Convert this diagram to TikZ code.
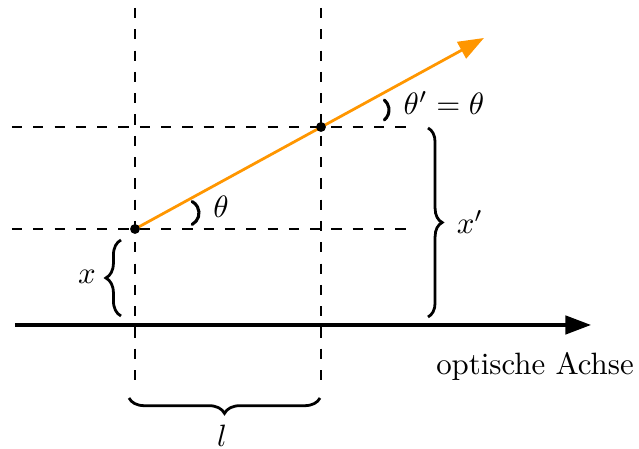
\documentclass[tikz,border=0pt]{standalone}
\usetikzlibrary{arrows.meta,decorations.pathreplacing}
\definecolor{rayorange}{RGB}{255,150,0}
\begin{document}
\begin{tikzpicture}[x=0.324pt,y=-0.324pt,
  guide/.style={line width=0.4pt, dash pattern=on 3.3pt off 3.6pt},
  ray/.style={rayorange, line width=0.9pt, -{Triangle[length=8.3pt,width=6pt]}},
  axisline/.style={line width=1pt, -{Triangle[length=8.3pt,width=6pt]}},
  dot/.style={circle, fill=black, inner sep=0pt, minimum size=3.2pt},
  bracestyle/.style={decorate, decoration={brace, amplitude=#1}, line width=0.9pt},
  anglearc/.style={line width=1pt, line cap=round},
  lbl/.style={inner sep=0pt}]
\useasboundingbox (0,0) rectangle (639,449);
% guide coordinates
\coordinate (v1t) at (135,8);   \coordinate (v1b) at (135,386);
\coordinate (v2t) at (321,8);   \coordinate (v2b) at (321,386);
\coordinate (h1l) at (12,127);  \coordinate (h1r) at (408,127);
\coordinate (h2l) at (12,229);  \coordinate (h2r) at (410,229);
\coordinate (ax0) at (15,325);  \coordinate (ax1) at (591,325);
\coordinate (A) at (135,229);   \coordinate (B) at (321,127);
\coordinate (T) at (484,38);
% dashed guides
\draw[guide] (v1t) -- (v1b);
\draw[guide] (v2t) -- (v2b);
\draw[guide] (h1l) -- (h1r);
\draw[guide] (h2l) -- (h2r);
% optical axis
\draw[axisline] (ax0) -- (ax1);
\node[lbl, anchor=base] (lax) at (535,375) {optische Achse};
% ray
\draw[ray] (A) -- (T);
\node[dot] (pA) at (A) {};
\node[dot] (pB) at (B) {};
% angle arcs (parenthesis-like)
\coordinate (cA) at (186,213);
\coordinate (cB) at (376,110);
\draw[anglearc] ([shift={(62:13)}]cA) arc[start angle=62, end angle=-62, radius=13];
\draw[anglearc] ([shift={(50:13)}]cB) arc[start angle=50, end angle=-50, radius=13];
\node[lbl] (lth) at (221,207) {$\theta$};
\node[lbl] (lthp) at (444,103) {$\theta'=\theta$};
% braces
\coordinate (bxb) at (121,316); \coordinate (bxt) at (121,240);
\draw[bracestyle=4.9pt] (bxb) -- (bxt);
\node[lbl] (lx) at (87,277) {$x$};
\coordinate (bpt) at (428,128); \coordinate (bpb) at (428,317);
\draw[bracestyle=4.6pt] (bpt) -- (bpb);
\node[lbl] (lxp) at (470,222) {$x'$};
\coordinate (blr) at (320,398); \coordinate (bll) at (129,398);
\draw[bracestyle=5pt] (blr) -- (bll);
\node[lbl] (ll) at (222,436) {$l$};
\end{tikzpicture}
\end{document}
